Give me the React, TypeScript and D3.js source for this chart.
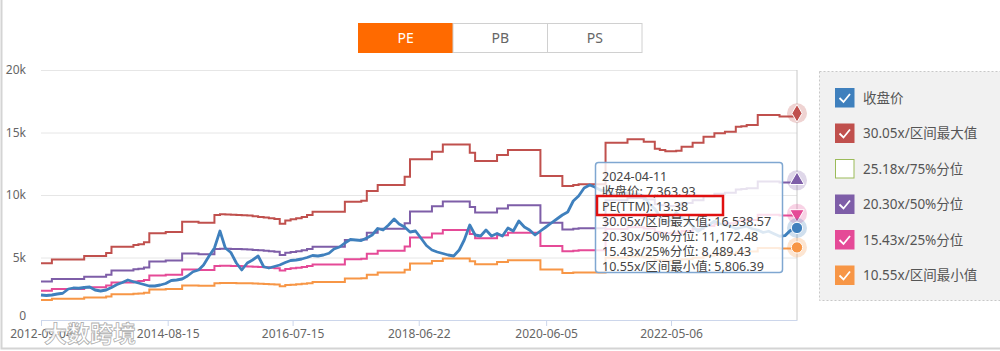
import React, { useEffect, useRef } from 'react';
import * as d3 from 'd3';

const W = 1000;
const H = 351;
const margin = { top: 70, right: 203, bottom: 31, left: 41 };

// monthly EPS (TTM) implied by the band lines, first point 2012-09-04, last 2024-04-11
const eps = [
  151.4, 151.4, 161.1, 161.1, 161.1, 161.1, 161.1, 161.1, 170.4, 170.4,
  170.4, 170.4, 178.4, 195.0, 195.0, 195.0, 195.0, 199.7, 201.7, 207.0,
  230.9, 230.9, 230.9, 234.3, 234.3, 234.3, 261.6, 261.6, 261.6, 258.9,
  258.9, 258.9, 279.5, 281.2, 280.9, 280.2, 279.5, 278.9, 277.9, 276.2,
  274.5, 272.9, 271.2, 268.9, 256.2, 264.6, 267.9, 271.2, 274.5, 279.5,
  288.2, 288.2, 288.2, 288.2, 288.2, 288.2, 314.8, 314.8, 314.8, 317.5,
  343.4, 343.4, 359.4, 359.4, 359.4, 359.4, 359.4, 381.4, 428.0, 428.0,
  428.0, 428.0, 447.9, 447.9, 467.2, 467.2, 467.2, 467.2, 467.2, 445.3,
  423.3, 423.3, 423.3, 423.3, 439.3, 439.3, 452.6, 452.6, 452.6, 452.6,
  452.6, 452.6, 383.4, 383.4, 383.4, 383.4, 356.7, 356.7, 359.4, 361.1,
  361.1, 361.1, 361.1, 361.1, 471.9, 471.9, 471.9, 471.9, 481.2, 481.2,
  481.2, 474.5, 474.5, 455.9, 452.6, 449.3, 449.3, 450.9, 461.2, 461.2,
  471.9, 471.9, 487.9, 487.9, 497.2, 497.2, 501.2, 501.2, 514.5, 515.8,
  519.1, 519.1, 545.8, 545.8, 545.8, 545.8, 541.8, 541.8, 541.8, 550.37,
];

// monthly close (收盘价)
const close = [
  2000, 1960, 2000, 2080, 2140, 2480, 2560, 2540, 2600, 2640,
  2400, 2320, 2400, 2600, 2840, 3000, 3200, 3060, 2960, 2840,
  2720, 2720, 2800, 2920, 3160, 3200, 3280, 3520, 3860, 4000,
  4400, 5120, 5760, 7120, 5760, 5400, 4560, 4000, 4560, 4800,
  5120, 4260, 4160, 4280, 4400, 4600, 4760, 4800, 4880, 5000,
  5160, 5120, 5200, 5340, 5680, 5840, 6160, 6440, 6400, 6360,
  6560, 6800, 7320, 7200, 7600, 8080, 7680, 7440, 7040, 7120,
  6560, 5960, 5600, 5440, 5320, 5200, 5120, 5600, 6400, 7600,
  6800, 6720, 7200, 6720, 6920, 6720, 7360, 7120, 7920, 7440,
  7200, 6800, 7120, 7440, 7760, 8080, 8400, 8640, 9520, 9920,
  10560, 10800, 10640, 10400, 10320, 10160, 9920, 10080, 10160, 10000,
  10080, 9920, 9300, 8900, 8300, 7700, 8000, 8600, 8200, 8000,
  7500, 7100, 7400, 7600, 7900, 7700, 7600, 7500, 7300, 7400,
  7500, 7300, 7200, 7000, 7100, 6900, 6700, 6750, 7150, 7363.93,
];

const bandNames = ['30.05x/区间最大值', '25.18x/75%分位', '20.30x/50%分位', '15.43x/25%分位', '10.55x/区间最小值'];
const bandMultiples = [30.05, 25.18, 20.3, 15.43, 10.55];
const bandColors = ['#c0504d', '#9bbb59', '#7e5ea8', '#e54a97', '#f79646'];
const bandVisible = [true, false, true, true, true];
const bandMarkers = ['diamond', 'triangle', 'triangle', 'triangleDown', 'circle'];

const closeName = '收盘价';
const closeColor = '#3f80bd';

const tabs = ['PE', 'PB', 'PS'];
const yTicks = [0, 5000, 10000, 15000, 20000];
const xTickLabels = ['2012-09-04', '2014-08-15', '2016-07-15', '2018-06-22', '2020-06-05', '2022-05-06'];

const tooltipLines = [
  '2024-04-11',
  '收盘价: 7,363.93',
  'PE(TTM): 13.38',
  '30.05x/区间最大值: 16,538.57',
  '20.30x/50%分位: 11,172.48',
  '15.43x/25%分位: 8,489.43',
  '10.55x/区间最小值: 5,806.39',
];

const FONT = "'Noto Sans', 'Noto Sans CJK SC', sans-serif";

const App = () => {
  const ref = useRef(null);

  useEffect(() => {
    const svg = d3.select(ref.current);
    svg.selectAll('*').remove();

    const parse = d3.timeParse('%Y-%m-%d');
    const start = parse('2012-09-04');
    const end = parse('2024-04-11');
    const dates = eps.map((_, i) => (i === eps.length - 1 ? end : d3.timeMonth.offset(start, i)));

    const x = d3.scaleTime().domain([start, end]).range([margin.left, W - margin.right]);
    const y = d3.scaleLinear().domain([0, 20000]).range([H - margin.bottom, margin.top]);
    const x1 = W - margin.right;
    const y0 = H - margin.bottom;

    // outer frame
    svg.append('path')
      .attr('d', `M1.5,0 V348.5 H${W}`)
      .attr('fill', 'none')
      .attr('stroke', '#d4d4d4')
      .attr('stroke-width', 2);

    // tabs
    const tabW = 94.5;
    tabs.forEach((t, i) => {
      const tx = 358.5 + i * tabW;
      svg.append('rect')
        .attr('x', tx).attr('y', 23.5).attr('width', tabW).attr('height', 29)
        .attr('fill', i === 0 ? '#ff6a00' : '#fff')
        .attr('stroke', i === 0 ? '#ff6a00' : '#d0d0d0');
      svg.append('text')
        .attr('x', tx + tabW / 2).attr('y', 43)
        .attr('text-anchor', 'middle')
        .attr('font-family', FONT).attr('font-size', 14)
        .attr('fill', i === 0 ? '#fff' : '#666')
        .text(t);
    });

    // grid + y labels
    const yAxis = d3.axisLeft(y).tickValues(yTicks)
      .tickSize(-(x1 - margin.left))
      .tickFormat(d => (d === 0 ? '0' : `${d / 1000}k`));
    const gy = svg.append('g').attr('transform', `translate(${margin.left},0)`).call(yAxis);
    gy.select('.domain').remove();
    gy.selectAll('line').attr('stroke', '#e6e6e6');
    gy.selectAll('text')
      .attr('x', -15).attr('font-family', FONT).attr('font-size', 12).attr('fill', '#666');
    // the zero label sits a little above the baseline
    gy.selectAll('.tick').filter(d => d === 0).select('text').attr('dy', '-0.05em');

    // x axis
    const xAxis = d3.axisBottom(x).tickValues(xTickLabels.map(parse))
      .tickSize(6).tickSizeOuter(0)
      .tickFormat(d3.timeFormat('%Y-%m-%d'));
    const gx = svg.append('g').attr('transform', `translate(0,${y0})`).call(xAxis);
    gx.select('.domain').attr('stroke', '#ccd6eb');
    gx.selectAll('line').attr('stroke', '#ccd6eb');
    gx.selectAll('text')
      .attr('y', 9).attr('font-family', FONT).attr('font-size', 12).attr('fill', '#666');

    // crosshair
    svg.append('line')
      .attr('x1', x1).attr('x2', x1).attr('y1', margin.top).attr('y2', y0)
      .attr('stroke', '#c8c8c8');

    // band lines
    const stepLine = d3.line().x(d => x(d[0])).y(d => y(d[1])).curve(d3.curveStepAfter);
    bandMultiples.forEach((m, k) => {
      if (!bandVisible[k]) return;
      const pts = eps.map((e, i) => [dates[i], e * m]);
      svg.append('path')
        .attr('d', stepLine(pts))
        .attr('fill', 'none')
        .attr('stroke', bandColors[k])
        .attr('stroke-width', 2);
    });

    // close line
    const line = d3.line().x(d => x(d[0])).y(d => y(d[1]));
    svg.append('path')
      .attr('d', line(close.map((c, i) => [dates[i], c])))
      .attr('fill', 'none')
      .attr('stroke', closeColor)
      .attr('stroke-width', 2.8)
      .attr('stroke-linejoin', 'round');

    // end markers
    const lastEps = eps[eps.length - 1];
    const markerData = [];
    bandMultiples.forEach((m, k) => {
      if (bandVisible[k]) markerData.push({ v: lastEps * m, color: bandColors[k], shape: bandMarkers[k] });
    });
    markerData.push({ v: close[close.length - 1], color: closeColor, shape: 'circle' });
    const sym = {
      diamond: d3.symbolDiamond,
      triangle: d3.symbolTriangle,
      triangleDown: d3.symbolTriangle,
      circle: d3.symbolCircle,
    };
    markerData.forEach(d => {
      const g = svg.append('g').attr('transform', `translate(${x1},${y(d.v)})`);
      g.append('circle').attr('r', 10).attr('fill', d.color).attr('fill-opacity', 0.25);
      g.append('path')
        .attr('d', d3.symbol().type(sym[d.shape]).size(d.shape === 'circle' ? 100 : 90)())
        .attr('transform', d.shape === 'triangleDown' ? 'rotate(180)' : null)
        .attr('fill', d.color)
        .attr('stroke', '#fff').attr('stroke-width', 1);
    });

    // tooltip
    const tip = svg.append('g');
    tip.append('rect')
      .attr('x', 595.5).attr('y', 162.5).attr('width', 187).attr('height', 110).attr('rx', 3)
      .attr('fill', '#fff').attr('fill-opacity', 0.82)
      .attr('stroke', '#7fa7d1').attr('stroke-width', 1.5);
    tooltipLines.forEach((t, i) => {
      tip.append('text')
        .attr('x', 602).attr('y', 181 + i * 15)
        .attr('font-family', FONT).attr('font-size', 12.5)
        .attr('fill', '#444')
        .text(t);
    });
    tip.append('rect')
      .attr('x', 597).attr('y', 196).attr('width', 126).attr('height', 19)
      .attr('fill', 'none').attr('stroke', '#e01010').attr('stroke-width', 2.5);

    // legend
    svg.append('rect')
      .attr('x', 819.5).attr('y', 71.5).attr('width', 200).attr('height', 229)
      .attr('fill', '#f1f1f1').attr('stroke', '#c8c8c8').attr('stroke-dasharray', '2,2');
    const legendItems = [{ name: closeName, color: closeColor, on: true }]
      .concat(bandNames.map((n, k) => ({ name: n, color: bandColors[k], on: bandVisible[k] })));
    legendItems.forEach((d, i) => {
      const ly = 88 + i * 35.5;
      const g = svg.append('g').attr('transform', `translate(835,${ly})`);
      g.append('rect')
        .attr('x', 0.5).attr('y', 0.5).attr('width', 18.5).attr('height', 18.5)
        .attr('fill', d.on ? d.color : '#fff')
        .attr('stroke', d.color).attr('stroke-width', 1);
      if (d.on) {
        g.append('path')
          .attr('d', 'M4.5,10 L8.5,14 L15,6')
          .attr('fill', 'none').attr('stroke', '#fff').attr('stroke-width', 1.8);
      }
      g.append('text')
        .attr('x', 28).attr('y', 14.5)
        .attr('font-family', FONT).attr('font-size', 13.5)
        .attr('fill', '#555')
        .text(d.name);
    });

    // watermark
    svg.append('text')
      .attr('x', 44).attr('y', 342)
      .attr('font-family', "'Noto Sans CJK SC', sans-serif").attr('font-size', 23).attr('font-weight', 700)
      .attr('fill', '#fff').attr('fill-opacity', 0.85)
      .attr('stroke', '#9a9a9a').attr('stroke-width', 0.8).attr('stroke-opacity', 0.8)
      .text('大数跨境');
  }, []);

  return (
    <svg ref={ref} width={W} height={H}
      style={{ position: 'absolute', left: 0, top: 0, background: '#fff' }} />
  );
};

export default App;
